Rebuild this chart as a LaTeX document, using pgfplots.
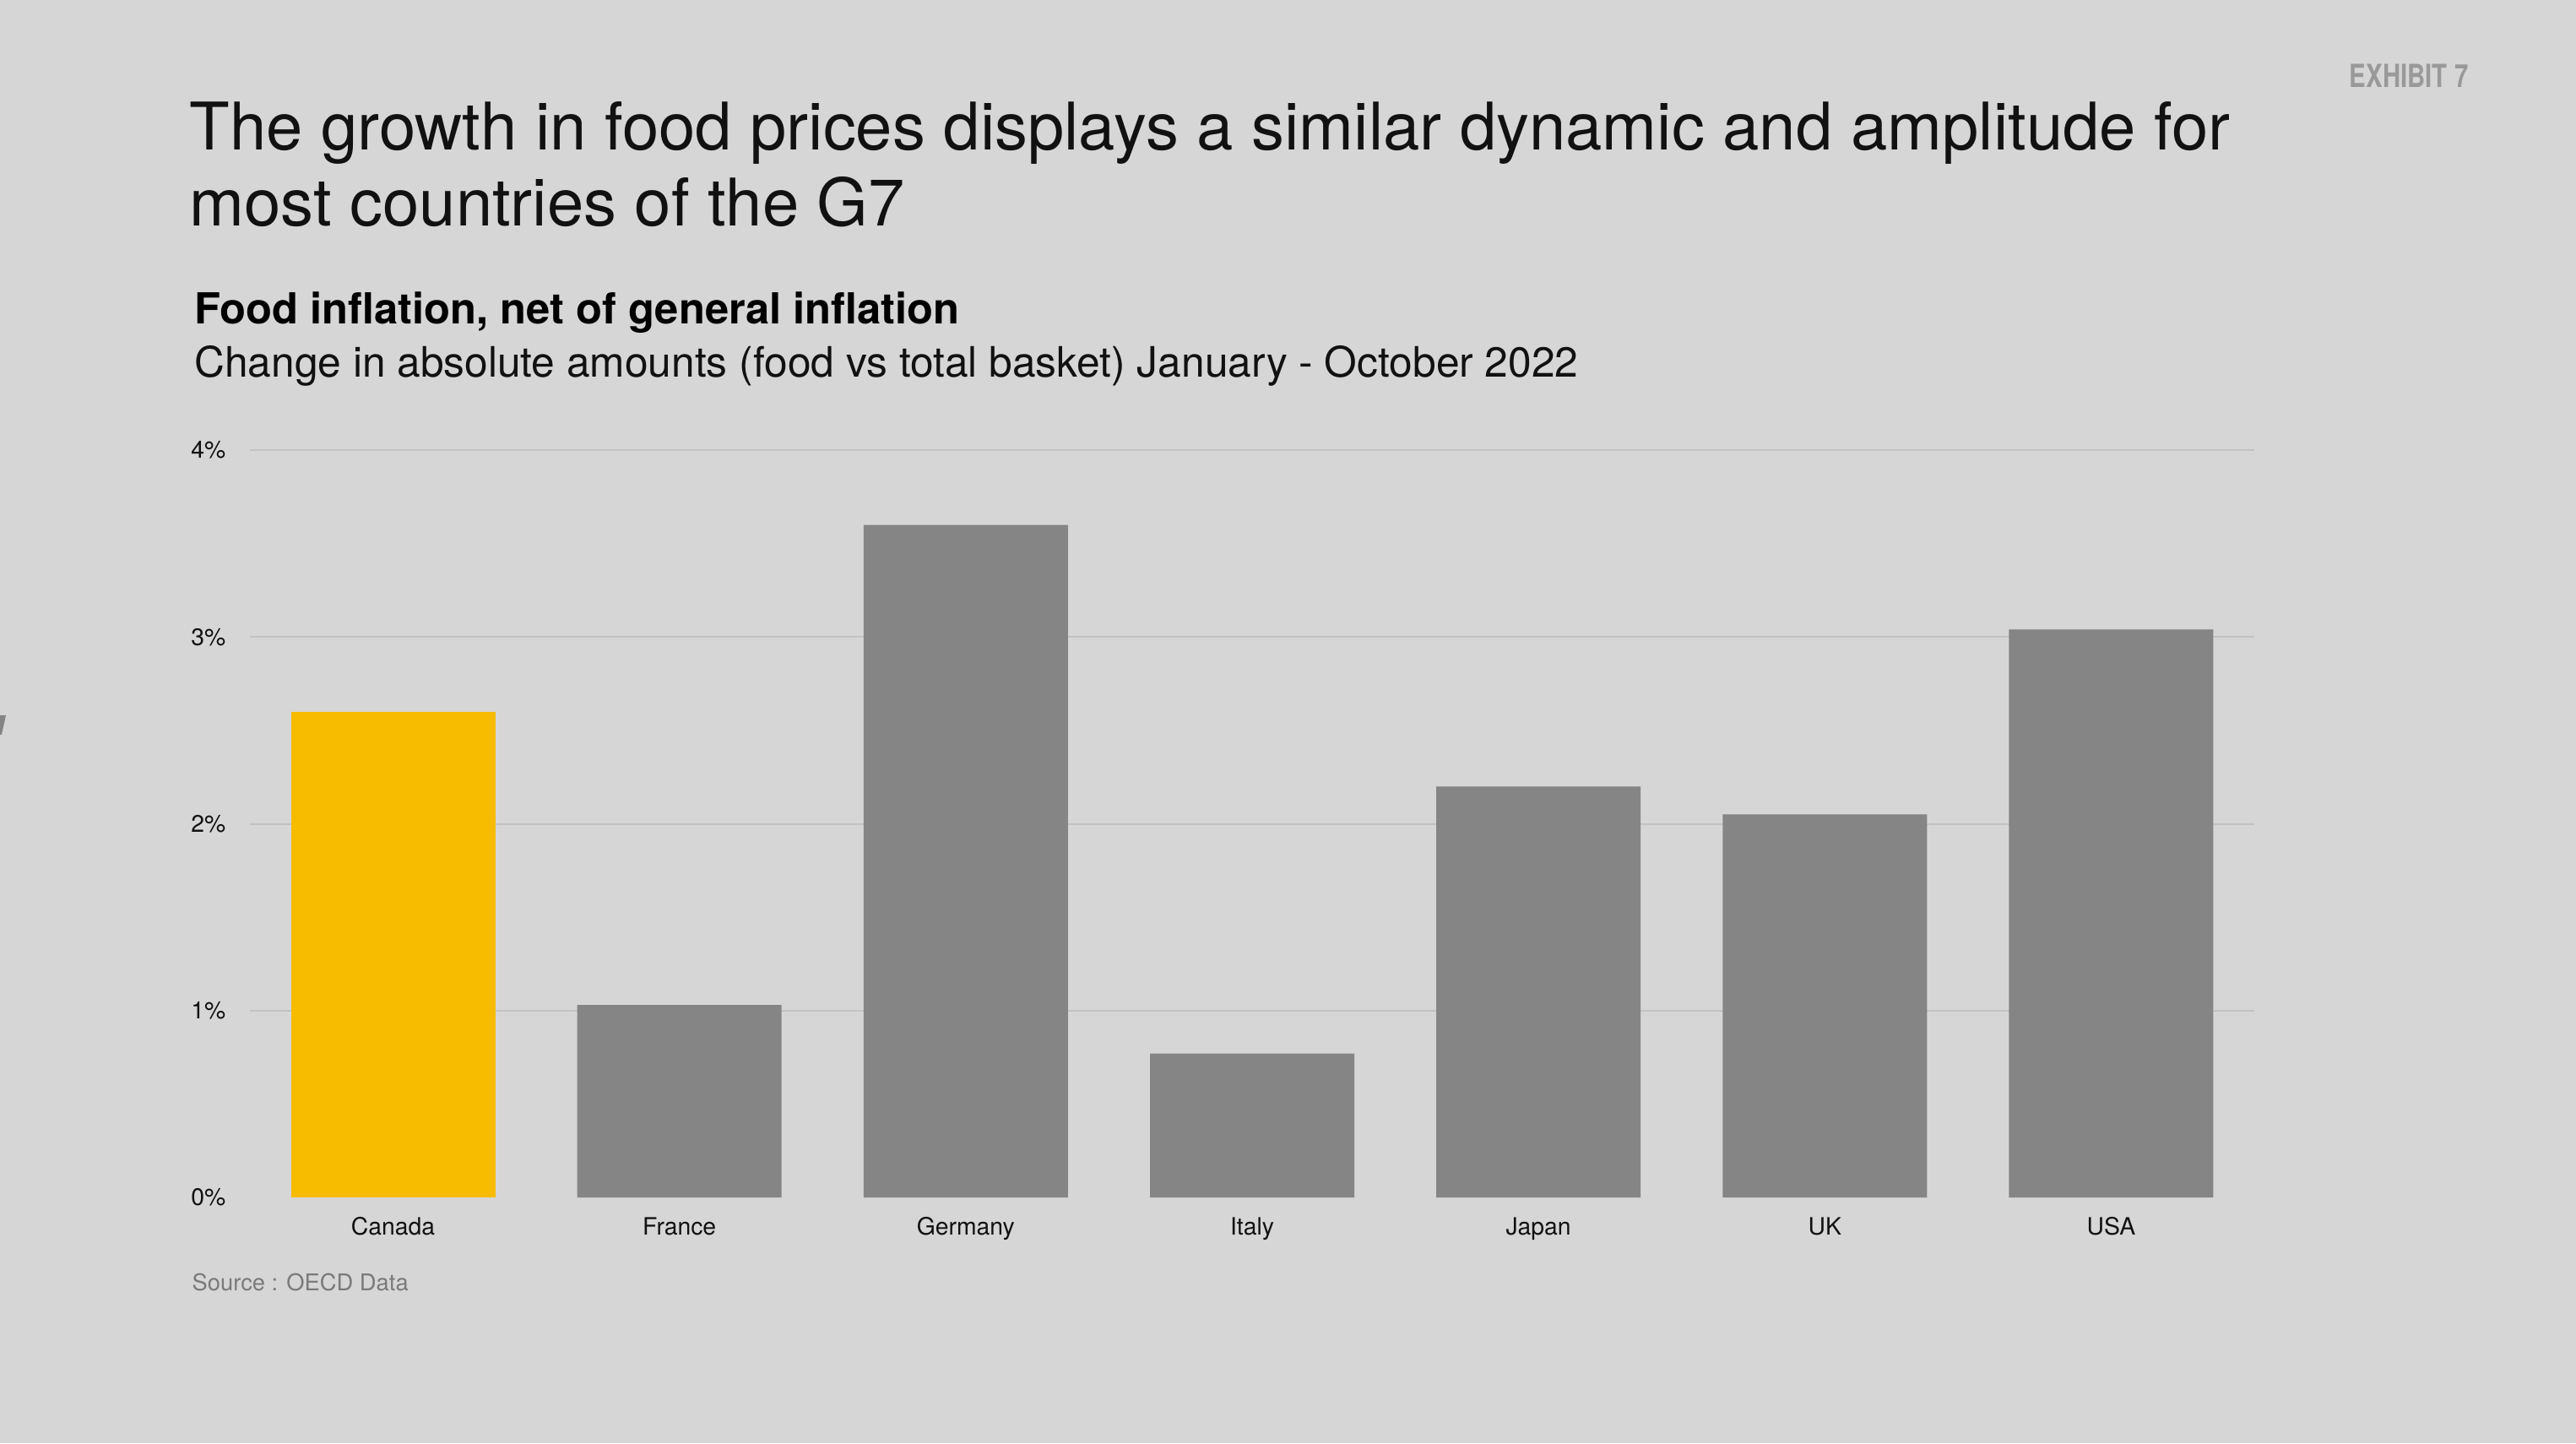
\documentclass[border=0pt]{standalone}
\usepackage{pgfplots}
\pgfplotsset{compat=1.18}
\usepackage{fontspec}
\setmainfont{TeX Gyre Heros}
\definecolor{bg}{HTML}{D6D6D6}
\definecolor{bargray}{HTML}{858585}
\definecolor{canada}{HTML}{F7BB00}
\definecolor{gridc}{HTML}{C2C2C2}
\definecolor{ink}{HTML}{111111}
\definecolor{srcgray}{HTML}{7A7A7A}
\definecolor{exh}{HTML}{999999}

\pgfplotstableread{
x value
0 2.60
}\canadatab
\pgfplotstableread{
x value
1 1.03
2 3.60
3 0.77
4 2.20
5 2.05
6 3.04
}\othertab

\begin{document}
\begin{tikzpicture}
% canvas 3051 x 1709 units, 0.3bp each, origin top left
\useasboundingbox (0,0) rectangle (915.3bp,-512.7bp);
\fill[bg] (0,0) rectangle (915.3bp,-512.7bp);
\fill[bargray] (0bp,-254.1bp) -- (2.1bp,-254.1bp) -- (0.6bp,-261bp) -- (0bp,-261bp) -- cycle;

\node[anchor=base east, inner sep=0pt, text=exh, font=\fontsize{11.3bp}{13bp}\selectfont\bfseries]
  at (877.2bp,-30.9bp) {\scalebox{0.78}[1]{EXHIBIT 7}};

\node[anchor=base west, inner sep=0pt, text=ink, font=\fontsize{23.35bp}{27bp}\selectfont]
  at (67.2bp,-53.1bp) {The growth in food prices displays a similar dynamic and amplitude for};
\node[anchor=base west, inner sep=0pt, text=ink, font=\fontsize{23.35bp}{27bp}\selectfont]
  at (67.2bp,-80.1bp) {most countries of the G7};

\node[anchor=base west, inner sep=0pt, text=black, font=\fontsize{15.2bp}{18bp}\selectfont\bfseries]
  at (68.9bp,-114.9bp) {Food inflation, net of general inflation};
\node[anchor=base west, inner sep=0pt, text=ink, font=\fontsize{14.9bp}{18bp}\selectfont]
  at (68.9bp,-133.8bp) {Change in absolute amounts (food vs total basket) January - October 2022};

\node[anchor=base west, inner sep=0pt, text=srcgray, font=\fontsize{8.2bp}{9bp}\selectfont]
  at (68.1bp,-458.4bp) {Source : OECD Data};

\begin{axis}[
  at={(88.8bp,-425.4bp)}, anchor=south west,
  scale only axis, width=712.2bp, height=265.5bp,
  xmin=-0.5, xmax=6.5, ymin=0, ymax=4,
  axis line style={draw=none},
  major tick length=0pt,
  xtick={0,1,2,3,4,5,6},
  xticklabels={Canada,France,Germany,Italy,Japan,UK,USA},
  xticklabel style={anchor=base, inner sep=0pt, yshift=-13.2bp, text=ink,
    font=\fontsize{8.5bp}{9bp}\selectfont},
  ytick={1,2,3,4},
  yticklabels={1\%,2\%,3\%,4\%},
  extra y ticks={0}, extra y tick labels={0\%},
  extra y tick style={grid=none},
  yticklabel style={anchor=east, inner sep=0pt, xshift=-8.4bp, text=ink,
    font=\fontsize{8.5bp}{9bp}\selectfont},
  ymajorgrids, grid style={draw=gridc, line width=0.6bp},
  ybar, bar width=72.6bp,
  clip=false,
]
\addplot[fill=canada, draw=none, bar shift=0pt] table[x=x, y=value] {\canadatab};
\addplot[fill=bargray, draw=none, bar shift=0pt] table[x=x, y=value] {\othertab};
\end{axis}
\end{tikzpicture}
\end{document}
